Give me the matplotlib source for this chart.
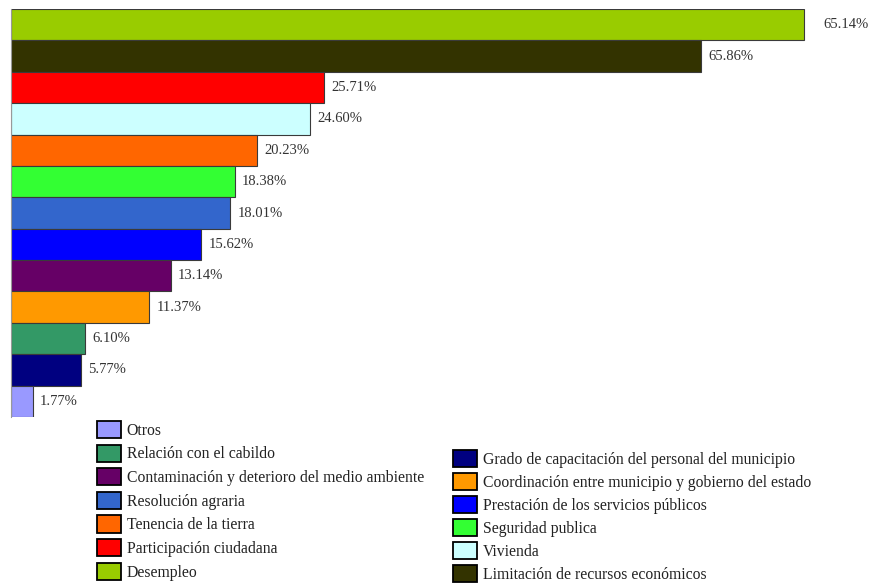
import matplotlib
matplotlib.use("Agg")
import matplotlib.pyplot as plt
from matplotlib.patches import Patch

categories = ["Desempleo", "Limitación de recursos económicos", "Participación ciudadana",
              "Vivienda", "Tenencia de la tierra", "Seguridad publica", "Resolución agraria",
              "Prestación de los servicios públicos", "Contaminación y deterioro del medio ambiente",
              "Coordinación entre municipio y gobierno del estado", "Relación con el cabildo",
              "Grado de capacitación del personal del municipio", "Otros"]
# bar lengths as drawn (the second bar is drawn shorter than its printed label)
values = [65.14, 56.7, 25.71, 24.60, 20.23, 18.38, 18.01, 15.62, 13.14, 11.37, 6.10, 5.77, 1.77]
labels = ["65.14%", "65.86%", "25.71%", "24.60%", "20.23%", "18.38%", "18.01%", "15.62%",
          "13.14%", "11.37%", "6.10%", "5.77%", "1.77%"]
colors = ["#99CC00", "#333300", "#FF0000", "#CCFFFF", "#FF6600", "#33FF33", "#3366CC",
          "#0000FF", "#660066", "#FF9900", "#339966", "#000080", "#9999FF"]

plt.rcParams['font.family'] = ['Liberation Serif', 'DejaVu Serif']

W, H = 878, 583
fig = plt.figure(figsize=(W / 100, H / 100), dpi=100)
x0, y_top, y_bot = 11, 9, 417
scale = 12.17  # px per percent
xmax = 70
ax = fig.add_axes([x0 / W, 1 - y_bot / H, xmax * scale / W, (y_bot - y_top) / H])

n = len(values)
ypos = list(range(n))
bars = ax.barh(ypos, values, height=1.0, color=colors, edgecolor="#3a3a3a", linewidth=0.8)
ax.set_ylim(n - 0.5, -0.5)
ax.set_xlim(0, xmax)
for s in ["top", "right", "bottom"]:
    ax.spines[s].set_visible(False)
ax.spines["left"].set_color("#999999")
ax.set_xticks([])
ax.set_yticks([])

for i, (v, lab) in enumerate(zip(values, labels)):
    off = 1.6 if i == 0 else 0.6
    ax.text(v + off, i, lab, va="center", ha="left", fontsize=10.5, color="#333333")

handle = {c: Patch(facecolor=col, edgecolor="black", linewidth=1.3) for c, col in zip(categories, colors)}
left_items = ["Otros", "Relación con el cabildo", "Contaminación y deterioro del medio ambiente",
              "Resolución agraria", "Tenencia de la tierra", "Participación ciudadana", "Desempleo"]
right_items = ["Grado de capacitación del personal del municipio",
               "Coordinación entre municipio y gobierno del estado",
               "Prestación de los servicios públicos", "Seguridad publica", "Vivienda",
               "Limitación de recursos económicos"]

common = dict(frameon=False, fontsize=11.3, handlelength=1.55, handleheight=1.3,
              handletextpad=0.35, borderpad=0, borderaxespad=0, labelcolor="#222222")
leg1 = fig.legend([handle[c] for c in left_items], left_items, loc="upper left",
                  bbox_to_anchor=(97 / W, 1 - 421 / H), labelspacing=0.37, **common)
leg2 = fig.legend([handle[c] for c in right_items], right_items, loc="upper left",
                  bbox_to_anchor=(453 / W, 1 - 450 / H), labelspacing=0.33, **common)

fig.savefig("out.png", dpi=100)
